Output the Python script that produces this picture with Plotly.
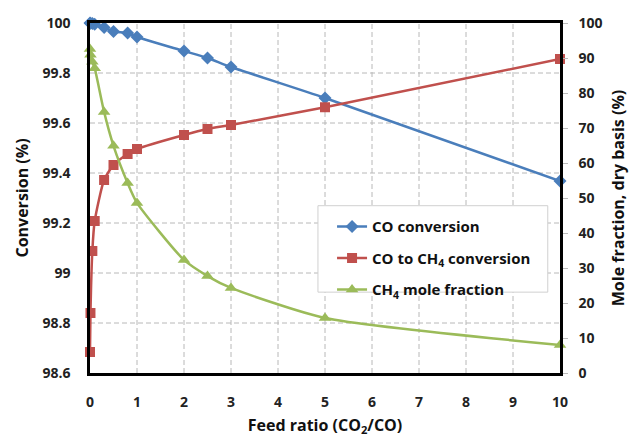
import plotly.graph_objects as go

# Feed ratio CO2/CO
feed_ratio = [0, 0.01, 0.05, 0.1, 0.3, 0.5, 0.8, 1, 2, 2.5, 3, 5, 10]

# Left axis (%)
co_conversion = [100.0, 99.999, 99.998, 99.995, 99.982, 99.966, 99.96, 99.944,
                 99.888, 99.86, 99.824, 99.70, 99.368]
co_to_ch4_conversion = [98.684, 98.84, 99.088, 99.208, 99.372, 99.432, 99.476,
                        99.496, 99.552, 99.576, 99.592, 99.663, 99.856]

# Right axis (%)
ch4_mole_fraction = [92.6, 90.9, 88.9, 87.1, 74.6, 64.9, 54.3, 48.6, 32.3,
                     27.7, 24.3, 15.7, 8.0]

x_ticks = list(range(0, 11))
left_ticks = [98.6, 98.8, 99.0, 99.2, 99.4, 99.6, 99.8, 100.0]
left_tick_text = ["98.6", "98.8", "99", "99.2", "99.4", "99.6", "99.8", "100"]
right_ticks = list(range(0, 101, 10))

FONT = "Open Sans"
BLUE = "#4A7EBB"
RED = "#C0504D"
GREEN = "#9BBB59"
GRID = "#b8b8b8"

x_min, x_max = x_ticks[0], x_ticks[-1]
y_min, y_max = left_ticks[0], left_ticks[-1]

fig = go.Figure()

# Dashed grid built from the tick arrays, drawn beneath the data series
grid_x, grid_y = [], []
for t in x_ticks[1:-1]:
    grid_x += [t, t, None]
    grid_y += [y_min, y_max, None]
for t in left_ticks[1:-1]:
    grid_x += [x_min, x_max, None]
    grid_y += [t, t, None]
fig.add_trace(go.Scatter(
    x=grid_x, y=grid_y, mode="lines", showlegend=False, hoverinfo="skip",
    line=dict(color=GRID, width=1, dash="5px,3px"), yaxis="y"))

fig.add_trace(go.Scatter(
    x=feed_ratio, y=co_conversion, name="CO conversion", legendgroup="a",
    mode="lines+markers", line=dict(color=BLUE, width=2.5, shape="spline", smoothing=0.6),
    marker=dict(symbol="diamond", size=10, color=BLUE), yaxis="y", cliponaxis=False))
fig.add_trace(go.Scatter(
    x=feed_ratio, y=co_to_ch4_conversion, name="CO to CH<sub>4</sub> conversion",
    legendgroup="b",
    mode="lines+markers", line=dict(color=RED, width=2.5, shape="spline", smoothing=0.6),
    marker=dict(symbol="square", size=10, color=RED), yaxis="y", cliponaxis=False))
fig.add_trace(go.Scatter(
    x=feed_ratio, y=ch4_mole_fraction, name="CH<sub>4</sub> mole fraction",
    legendgroup="c",
    mode="lines+markers", line=dict(color=GREEN, width=2.5, shape="spline", smoothing=0.6),
    marker=dict(symbol="triangle-up", size=11, color=GREEN), yaxis="y2", cliponaxis=False))

tickfont = dict(family=FONT, size=14, color="#222", weight="bold")
titlefont = dict(family=FONT, size=16, color="#111", weight="bold")

fig.update_layout(
    width=637, height=437,
    margin=dict(l=90, r=77, t=23, b=64),
    paper_bgcolor="white", plot_bgcolor="white",
    showlegend=True,
    legend=dict(
        x=0.515, y=0.465, xanchor="left", yanchor="top",
        bgcolor="rgba(0,0,0,0)", borderwidth=0,
        font=dict(family=FONT, size=15, color="#111", weight="bold"),
        tracegroupgap=9, itemwidth=30),
    shapes=[dict(
        type="rect", xref="paper", yref="paper",
        x0=0.485, x1=0.974, y0=0.231, y1=0.478,
        line=dict(color="#d0d0d0", width=1), fillcolor="white", layer="above")],
    xaxis=dict(
        range=[x_min, x_max], tickmode="array", tickvals=x_ticks, showgrid=False,
        zeroline=False, automargin=False,
        showline=True, linecolor="black", linewidth=2.5, mirror=True,
        ticks="", ticklabelstandoff=14, tickfont=tickfont,
        title=dict(text="Feed ratio (CO<sub>2</sub>/CO)", font=titlefont, standoff=14)),
    yaxis=dict(
        range=[y_min, y_max], tickmode="array", tickvals=left_ticks, ticktext=left_tick_text,
        showgrid=False,
        zeroline=False, automargin=False, showline=True, linecolor="black", linewidth=2.5,
        ticks="", ticklabelstandoff=14, tickfont=tickfont,
        title=dict(text="Conversion (%)", font=titlefont, standoff=10)),
    yaxis2=dict(
        range=[0, 100], tickmode="array", tickvals=right_ticks, overlaying="y", side="right",
        showgrid=False, zeroline=False, automargin=False, showline=True,
        linecolor="black", linewidth=2.5,
        ticks="outside", ticklen=5, tickcolor="#bbbbbb", ticklabelstandoff=8,
        tickfont=tickfont,
        title=dict(text="Mole fraction, dry basis (%)", font=titlefont, standoff=12)),
)

fig.write_html("out.html")
